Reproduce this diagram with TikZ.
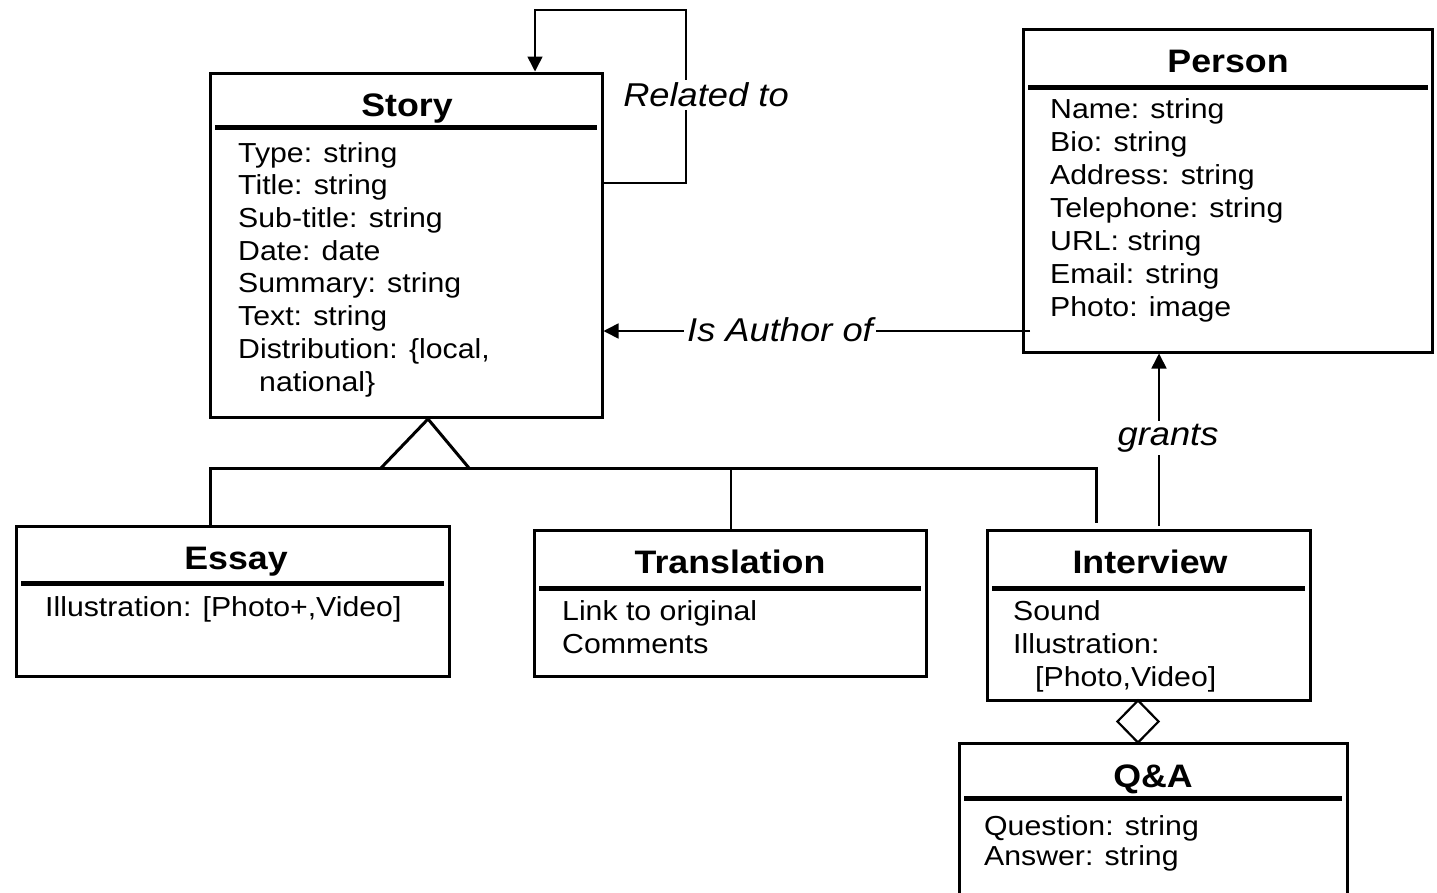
\documentclass[tikz,border=0pt]{standalone}
\usepackage{fontspec}
\setmainfont{Liberation Sans}[FakeStretch=1.1]
\usetikzlibrary{arrows.meta,shapes.geometric}
\tikzset{
  box/.style={draw, rectangle, line width=3pt, inner sep=0pt},
  hdr/.style={line width=5pt},
  conn/.style={line width=1.6pt},
  tree/.style={line width=3pt},
  tip/.style={-{Triangle[length=15pt,width=15pt]}},
  ttl/.style={font=\bfseries\fontsize{32.5}{36}\selectfont, inner sep=0pt, anchor=base},
  attr/.style={font=\fontsize{27.5}{33}\selectfont, align=left, anchor=north west, inner sep=0pt},
  lbl/.style={font=\itshape\fontsize{33}{36}\selectfont, fill=white, inner sep=3pt},
}
\begin{document}
\begin{tikzpicture}[x=1pt,y=-1pt]
\useasboundingbox (0,0) rectangle (1437,892);

% class boxes
\node[box, minimum width=392pt, minimum height=344pt] (story) at (406,245) {};
\node[box, minimum width=409pt, minimum height=323pt] (person) at (1227.5,190.5) {};
\node[box, minimum width=433pt, minimum height=150pt] (essay) at (232.5,601) {};
\node[box, minimum width=392pt, minimum height=146pt] (transl) at (730,603) {};
\node[box, minimum width=323pt, minimum height=170pt] (interview) at (1148.5,615) {};
\node[box, minimum width=388pt, minimum height=160pt] (qa) at (1153,823) {};

% header separators
\draw[hdr] (215,127) -- (597,127);
\draw[hdr] (1028,87) -- (1428,87);
\draw[hdr] (21,583) -- (444,583);
\draw[hdr] (539,588) -- (921,588);
\draw[hdr] (992,588) -- (1305,588);
\draw[hdr] (964,798) -- (1342,798);

% titles (baselines)
\node[ttl] (storyT) at (407,116) {Story};
\node[ttl] (personT) at (1228,72) {Person};
\node[ttl] (essayT) at (236,569) {Essay};
\node[ttl] (translT) at (730,573) {Translation};
\node[ttl] (interviewT) at (1150,573) {Interview};
\node[ttl] (qaT) at (1153,787) {Q\&A};

% attributes
\node[attr, font=\fontsize{27.5}{32.7}\selectfont] (storyA) at (238,142) {Type: string\\Title: string\\Sub-title: string\\Date: date\\Summary: string\\Text: string\\Distribution: \{local,\\\hspace{21pt}national\}};
\node[attr] (personA) at (1050,98) {Name: string\\Bio: string\\Address: string\\Telephone: string\\URL: string\\Email: string\\Photo: image};
\node[attr] (essayA) at (45,596) {Illustration: [Photo+,Video]};
\node[attr] (translA) at (562,600) {Link to original\\Comments};
\node[attr] (interviewA) at (1013,600) {Sound\\Illustration:\\\hspace{22pt}[Photo,Video]};
\node[attr, font=\fontsize{27.5}{30}\selectfont] (qaA) at (984,815) {Question: string\\Answer: string};

% self association "Related to"
\coordinate (r1) at (686,183);
\coordinate (r2) at (535,10);
\draw[conn, tip] (story.east |- r1) -- (r1) |- (r2) -- (r2 |- story.north);
\node[lbl] (relT) at (706,95) {Related to};

% Is Author of
\coordinate (a1) at (1030,331);
\draw[conn, tip] (a1) -- (story.east |- a1);
\node[lbl] (authT) at (780,330) {Is Author of};

% grants
\coordinate (g1) at (1159,526);
\draw[conn, tip] (g1) -- (g1 |- person.south);
\node[lbl] (grT) at (1168,438) {grants};

% inheritance
\coordinate (tA) at (428,419);
\coordinate (tL) at (381,468);
\coordinate (tR) at (469,468);
\draw[tree, line join=miter] (tL) -- (tA) -- (tR);
\coordinate (hL) at (210,468);
\coordinate (hR) at (1096,468);
\draw[tree] (hL |- essay.north) -- (hL) -- (hR) -- ([yshift=6pt]hR |- interview.north);
\coordinate (hT) at (731,468);
\draw[conn] (hT) -- (hT |- transl.north);

% aggregation diamond
\node[draw, diamond, line width=2.2pt, inner sep=0pt, minimum width=42pt, minimum height=43pt] (agg) at (1138,721.5) {};
\end{tikzpicture}
\end{document}
